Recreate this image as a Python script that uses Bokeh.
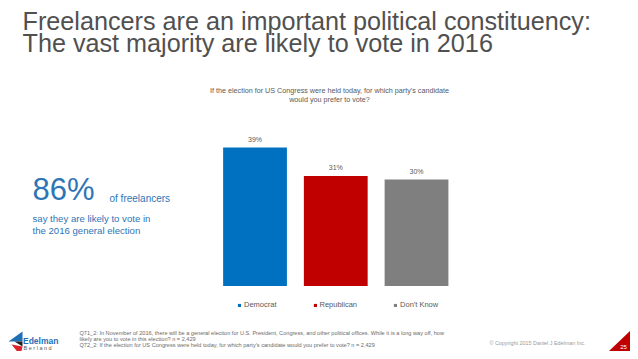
from bokeh.plotting import figure
from bokeh.models import Range1d, Label, Legend, LegendItem, ColumnDataSource
from bokeh.core.properties import value
from bokeh.embed import file_html
from bokeh.resources import INLINE

# ---- data ----
categories = ["Democrat", "Republican", "Don't Know"]
shares = [39, 31, 30]
bar_colors = ["#0070C0", "#C00000", "#7F7F7F"]
labels = [f"{v}%" for v in shares]

title_lines = ["Freelancers are an important political constituency:",
               "The vast majority are likely to vote in 2016"]
question_lines = ["If the election for US Congress were held today, for which party\u2019s candidate",
                  "would you prefer to vote?"]
footnote_lines = [
    "Q71_2: In November of 2016, there will be a general election for U.S. President, Congress, and other political offices.  While it is a long way off, how",
    "likely are you to vote in this election?  n = 2,429",
    "Q72_2: If the election for US Congress were held today, for which party\u2019s candidate would you prefer to vote? n = 2,429",
]
FONT = "Liberation Sans"
W, H = 630, 351

p = figure(width=W, height=H, output_backend="svg", toolbar_location=None,
           x_range=Range1d(0, W), y_range=Range1d(H, 0),
           x_axis_location=None, y_axis_location=None,
           min_border=0, outline_line_color=None, background_fill_color="white")
p.xgrid.visible = False
p.ygrid.visible = False
p.extra_x_ranges = {"bx": Range1d(-3.152, 4.650)}
p.extra_y_ranges = {"by": Range1d(-18.45, 80.42)}

src = ColumnDataSource(dict(idx=list(range(len(categories))), cat=categories,
                            share=shares, color=bar_colors, label=labels))
r = p.vbar(x="idx", top="share", bottom=0, width=0.79, fill_color="color",
           line_color=None, source=src, x_range_name="bx", y_range_name="by")
p.text(x="idx", y="share", text="label", source=src, x_range_name="bx", y_range_name="by",
       text_align="center", text_baseline="middle", y_offset=-8,
       text_font_size="7px", text_color="#595959", text_font=value(FONT))

legend = Legend(items=[LegendItem(label=c, renderers=[r], index=i) for i, c in enumerate(categories)],
                orientation="horizontal", location=(237, 42), padding=0, margin=0,
                spacing=36, label_standoff=3, glyph_width=4, glyph_height=4,
                label_height=8, label_text_font_size="7.5px", label_text_color="#595959",
                label_text_font=FONT, border_line_color=None, background_fill_alpha=0)
p.add_layout(legend)


def add_text(x, y, text, size, color, align="left", style="normal", font=FONT):
    p.add_layout(Label(x=x, y=y, text=text, text_font_size=size, text_color=color,
                       text_align=align, text_baseline="middle",
                       text_font_style=style, text_font=font))


# title
add_text(22, 20.3, title_lines[0], "25.2px", "#505050")
add_text(22, 42.5, title_lines[1], "25.2px", "#505050")
# chart question
add_text(329, 90, question_lines[0], "7.2px", "#595959", align="center")
add_text(329, 99, question_lines[1], "7.2px", "#595959", align="center")
# callout
blue = "#2E75B6"
add_text(32, 189, "86%", "31px", blue)
add_text(109, 198, "of freelancers", "10px", blue)
add_text(32, 218, "say they are likely to vote in", "9.6px", blue)
add_text(32, 229.8, "the 2016 general election", "9.6px", blue)
# footnotes
for i, line in enumerate(footnote_lines):
    add_text(79, 332 + 6 * i, line, "5.6px", "#6b6b6b")
add_text(489, 342, "\u00a9 Copyright 2015 Daniel J Edelman Inc.", "5.4px", "#9a9a9a")

# logo
p.patch([8, 22, 22], [341, 331, 341], color="#1F6FB5", line_color=None)
p.patch([14, 22, 22], [341, 341, 346], color="#222222", line_color=None)
p.patch([11, 22, 20], [344, 346, 355], color="#D9252A", line_color=None)
add_text(22.5, 340.5, "Edelman", "8.5px", "#1F6FB5", style="bold")
add_text(23, 347, "B e r l a n d", "5.5px", "#555555")

# page number badge
p.patch([608, 632, 632], [351, 351, 328], color="#C00000", line_color=None)
add_text(623, 346, "25", "6px", "white", align="center")

open("out.html", "w").write(file_html(p, INLINE))
